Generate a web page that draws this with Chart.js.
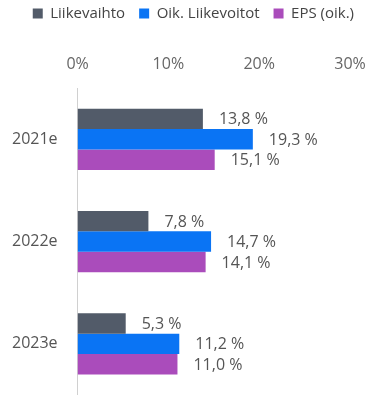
<!DOCTYPE html>
<html>
<head>
<meta charset="utf-8">
<script src="https://cdn.jsdelivr.net/npm/chart.js@4/dist/chart.umd.min.js"></script>
<style>
  html, body { margin: 0; padding: 0; background: #fff; }
  canvas { display: block; }
</style>
</head>
<body>
<canvas id="canvas" width="370" height="395"></canvas>
<script>
// data
var categories = ['2021e', '2022e', '2023e'];
var seriesNames = ['Liikevaihto', 'Oik. Liikevoitot', 'EPS (oik.)'];
var liikevaihto = [13.8, 7.8, 5.3];
var liikevoitot = [19.3, 14.7, 11.2];
var eps = [15.1, 14.1, 11.0];
var tickValues = [0, 10, 20, 30];

var colors = ['#525b69', '#0a74f4', '#aa4cbb'];
var fontFam = '"Open Sans"';

// draws "13,8 %" next to each bar end
var valueLabels = {
    id: 'valueLabels',
    afterDatasetsDraw: function (chart) {
        var ctx = chart.ctx;
        ctx.save();
        ctx.font = '16px ' + fontFam;
        ctx.fillStyle = '#555';
        ctx.textAlign = 'left';
        ctx.textBaseline = 'middle';
        chart.data.datasets.forEach(function (ds, i) {
            var meta = chart.getDatasetMeta(i);
            meta.data.forEach(function (bar, j) {
                var txt = ds.data[j].toFixed(1).replace('.', ',') + ' %';
                ctx.fillText(txt, bar.x + 16, bar.y + 1);
            });
        });
        ctx.restore();
    }
};

// a bit more room under the legend
var legendGap = {
    id: 'legendGap',
    beforeLayout: function (chart) {
        var lg = chart.legend;
        if (!lg || lg._gapDone) return;
        var fit = lg.fit;
        lg.fit = function () {
            fit.call(this);
            this.height += 8;
        };
        lg._gapDone = true;
    }
};

var ctx = document.getElementById('canvas').getContext('2d');
window.myBar = new Chart(ctx, {
    type: 'bar',
    data: {
        labels: categories,
        datasets: [
            { label: seriesNames[0], data: liikevaihto, backgroundColor: colors[0] },
            { label: seriesNames[1], data: liikevoitot, backgroundColor: colors[1] },
            { label: seriesNames[2], data: eps, backgroundColor: colors[2] }
        ]
    },
    options: {
        responsive: false,
        indexAxis: 'y',
        animation: false,
        layout: { padding: { left: 0, right: 2, top: -8, bottom: 0 } },
        datasets: { bar: { categoryPercentage: 0.6, barPercentage: 1.0 } },
        plugins: {
            legend: {
                position: 'top',
                align: 'end',
                labels: {
                    boxWidth: 10,
                    boxHeight: 10,
                    padding: 14,
                    color: '#444',
                    font: { family: fontFam, size: 15 }
                }
            },
            tooltip: { enabled: false }
        },
        scales: {
            x: {
                position: 'top',
                min: 0,
                max: 30,
                afterBuildTicks: function (axis) {
                    axis.ticks = tickValues.map(function (v) { return { value: v }; });
                },
                afterFit: function (axis) {
                    axis.height += 10;
                    axis.paddingRight = 20;
                },
                grid: { display: false },
                border: { display: false },
                ticks: {
                    color: '#666',
                    padding: 6,
                    font: { family: fontFam, size: 16 },
                    callback: function (v) { return v + '%'; }
                }
            },
            y: {
                // let the category axis run to the bottom edge
                afterFit: function (axis) {
                    axis.paddingBottom = 0;
                },
                grid: { display: false },
                border: { display: true, color: '#d0d0d0', width: 1 },
                ticks: {
                    color: '#555',
                    padding: 12,
                    font: { family: fontFam, size: 16 }
                }
            }
        }
    },
    plugins: [valueLabels, legendGap]
});
</script>
</body>
</html>
